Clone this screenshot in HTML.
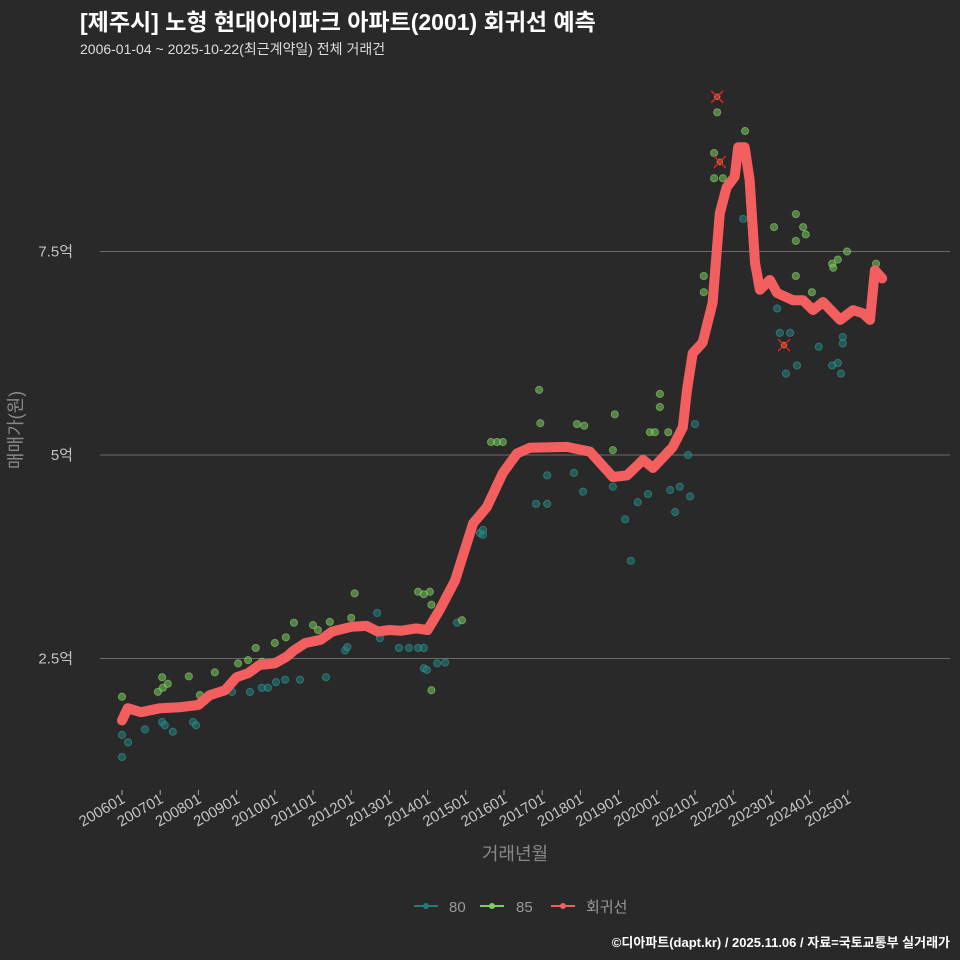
<!DOCTYPE html>
<html><head><meta charset="utf-8"><style>
body{margin:0;background:#2a292a;}
svg{display:block;font-family:"Liberation Sans","Noto Sans CJK KR",sans-serif;}
</style></head><body>
<svg id="c" width="960" height="960" viewBox="0 0 960 960">
<rect width="960" height="960" fill="#2a292a"/>
<text x="80" y="30" fill="#fff" font-size="23" font-weight="bold">[제주시] 노형 현대아이파크 아파트(2001) 회귀선 예측</text>
<text x="80" y="54" fill="#ddd" font-size="14">2006-01-04 ~ 2025-10-22(최근계약일) 전체 거래건</text>
<g id="grid"></g><g id="pts"></g><g id="ln"></g><g id="xt"></g>
<text transform="translate(22,430) rotate(-90)" text-anchor="middle" fill="#888" font-size="18">매매가(원)</text>
<text x="515" y="860" text-anchor="middle" fill="#888" font-size="18">거래년월</text>
<g>
<g><line x1="414" y1="906" x2="438" y2="906" stroke="#1f7c7a" stroke-width="2"/><circle cx="426" cy="906" r="3" fill="#1f7c7a"/><text x="449" y="912" fill="#999" font-size="15">80</text></g>
<g><line x1="480" y1="906" x2="504" y2="906" stroke="#7ccf5a" stroke-width="2"/><circle cx="492" cy="906" r="3" fill="#7ccf5a"/><text x="516" y="912" fill="#999" font-size="15">85</text></g>
<g><line x1="551" y1="906" x2="575" y2="906" stroke="#f35f5f" stroke-width="2"/><circle cx="563" cy="906" r="3" fill="#f35f5f"/><text x="586" y="912" fill="#999" font-size="15">회귀선</text></g>
</g>
<text x="950" y="947" text-anchor="end" fill="#fff" font-size="13" font-weight="bold">©디아파트(dapt.kr) / 2025.11.06 / 자료=국토교통부 실거래가</text>
</svg>
<script>
const yTicks=[2.5,5,7.5];
const yTickLabels=["2.5억","5억","7.5억"];
const xTickYears=[2006,2007,2008,2009,2010,2011,2012,2013,2014,2015,2016,2017,2018,2019,2020,2021,2022,2023,2024,2025];
const lineT=[2006.0,2006.15,2006.5,2007.0,2007.5,2008.0,2008.3,2008.7,2009.0,2009.3,2009.6,2010.0,2010.3,2010.5,2010.8,2011.2,2011.5,2012.0,2012.4,2012.7,2013.0,2013.3,2013.7,2014.0,2014.32,2014.72,2015.19,2015.55,2015.97,2016.34,2016.68,2017.65,2018.25,2018.85,2019.22,2019.64,2019.9,2020.42,2020.68,2020.79,2020.94,2021.2,2021.46,2021.65,2021.83,2022.04,2022.13,2022.3,2022.43,2022.57,2022.7,2022.96,2023.15,2023.57,2023.83,2024.09,2024.35,2024.8,2025.14,2025.4,2025.58,2025.71,2025.9];
const lineV=[1.74,1.89,1.84,1.89,1.9,1.93,2.05,2.11,2.27,2.32,2.42,2.44,2.52,2.6,2.69,2.73,2.83,2.89,2.9,2.83,2.85,2.84,2.87,2.85,3.1,3.46,4.16,4.36,4.78,5.02,5.09,5.1,5.04,4.73,4.75,4.94,4.84,5.1,5.34,5.8,6.25,6.38,6.87,7.97,8.29,8.42,8.78,8.78,8.38,7.36,7.03,7.15,6.99,6.9,6.9,6.78,6.88,6.66,6.78,6.74,6.66,7.27,7.17];
const g85T=[2006.0,2006.94,2007.07,2007.2,2007.05,2007.75,2008.04,2008.43,2009.04,2009.3,2009.5,2009.66,2010.0,2010.29,2010.5,2011.0,2011.13,2011.44,2012.0,2012.09,2013.75,2013.9,2014.06,2014.1,2014.1,2014.9,2015.66,2015.82,2015.97,2016.92,2016.95,2017.91,2018.1,2018.9,2018.85,2020.08,2020.08,2019.82,2019.95,2020.3,2021.23,2021.23,2021.5,2021.5,2021.73,2022.31,2021.58,2023.07,2023.64,2023.83,2023.9,2023.64,2023.64,2024.59,2024.62,2024.74,2024.98,2024.06,2025.74];
const g85V=[2.03,2.09,2.14,2.19,2.27,2.28,2.05,2.33,2.44,2.48,2.63,2.46,2.69,2.76,2.94,2.91,2.85,2.95,3.0,3.3,3.32,3.29,3.32,3.16,2.11,2.97,5.16,5.16,5.16,5.8,5.39,5.38,5.36,5.5,5.06,5.75,5.59,5.28,5.28,5.28,7.2,7.0,8.71,8.4,8.4,8.98,9.21,7.8,7.96,7.8,7.71,7.63,7.2,7.35,7.3,7.4,7.5,7.0,7.35];
const g80T=[2006.0,2006.16,2006.0,2007.05,2007.12,2007.33,2006.6,2007.86,2007.94,2008.88,2009.35,2009.66,2009.82,2010.03,2010.27,2010.66,2011.34,2011.84,2011.9,2012.68,2012.75,2013.25,2013.51,2013.75,2013.9,2013.9,2013.98,2014.25,2014.46,2014.77,2015.37,2015.45,2015.45,2017.13,2017.13,2016.84,2017.83,2018.07,2018.85,2019.17,2019.32,2019.5,2019.77,2020.35,2020.48,2020.6,2020.87,2020.82,2021.0,2023.15,2023.22,2023.49,2023.38,2023.67,2024.24,2024.59,2024.74,2024.82,2024.87,2024.87,2022.26];
const g80V=[1.56,1.47,1.29,1.72,1.68,1.6,1.63,1.72,1.68,2.09,2.09,2.14,2.14,2.21,2.24,2.24,2.27,2.6,2.64,3.06,2.75,2.63,2.63,2.63,2.63,2.38,2.36,2.44,2.45,2.94,4.04,4.02,4.08,4.75,4.4,4.4,4.78,4.55,4.61,4.21,3.7,4.42,4.52,4.57,4.3,4.61,4.49,5.0,5.38,6.8,6.5,6.5,6.0,6.1,6.33,6.1,6.13,6.0,6.45,6.37,7.9];
const outT=[2021.58,2021.65,2023.33];
const outV=[9.4,8.6,6.35];
const NS="http://www.w3.org/2000/svg";
const X=t=>122+(t-2006)*38.2;
const Y=v=>455-(v-5)*81.4;
function mk(tag,attrs,parent){const e=document.createElementNS(NS,tag);for(const k in attrs)e.setAttribute(k,attrs[k]);parent.appendChild(e);return e;}
const grid=document.getElementById('grid');
yTicks.forEach((v,i)=>{
 const l=mk('line',{x1:100,x2:950,y1:Y(v),y2:Y(v),stroke:'#6a6a6a','stroke-width':1},grid);
 
 
 const t=mk('text',{x:73,y:Y(v)+5,'text-anchor':'end',fill:'#c4c4c4','font-size':15},grid);
 t.textContent=yTickLabels[i];
 
 
});
const xt=document.getElementById('xt');
xTickYears.forEach(yr=>{
 const x=X(yr);
 const l=mk('line',{x1:x,x2:x,y1:790,y2:795,stroke:'#aaa'},xt);
 
 
 const t=mk('text',{x:x+4,y:802,'text-anchor':'end',fill:'#c4c4c4','font-size':15,transform:`rotate(-30 ${x+4} 802)`},xt);
 t.textContent=yr+'01';
 
 
});
const pts=document.getElementById('pts');
g80T.forEach((t,i)=>{
 const c=mk('circle',{cx:X(t),cy:Y(g80V[i]),r:3.6,fill:'#1f7c7a','fill-opacity':0.6,stroke:'#3aa8a2','stroke-opacity':0.5},pts);
 
 
});
g85T.forEach((t,i)=>{
 const c=mk('circle',{cx:X(t),cy:Y(g85V[i]),r:3.6,fill:'#6fbf55','fill-opacity':0.6,stroke:'#9ee07e','stroke-opacity':0.5},pts);
 
 
});
outT.forEach((t,i)=>{
 const x=X(t),y=Y(outV[i]);
 const c=mk('circle',{cx:x,cy:y,r:3.3,fill:'#c9a060','fill-opacity':0.7},pts);
 
 
 const p=mk('path',{d:`M${x-6} ${y-6}L${x+6} ${y+6}M${x-6} ${y+6}L${x+6} ${y-6}`,stroke:'#e0201f','stroke-width':1.5},pts);
 
 
});
const ln=document.getElementById('ln');
const d=lineT.map((t,i)=>(i?'L':'M')+X(t).toFixed(1)+' '+Y(lineV[i]).toFixed(1)).join('');
const path=mk('path',{d:d,fill:'none',stroke:'#f35f5f','stroke-width':10,'stroke-linejoin':'round','stroke-linecap':'round'},ln);


</script>
</body></html>
